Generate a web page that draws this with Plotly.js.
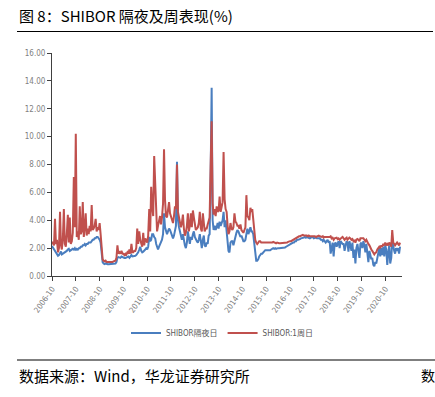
<!DOCTYPE html>
<html>
<head>
<meta charset="utf-8">
<script src="https://cdn.plot.ly/plotly-3.0.1.min.js"></script>
<style>html,body{margin:0;padding:0;background:#fff;}#chart{width:435px;height:397px;}</style>
</head>
<body>
<div id="chart"></div>
<script>
// Semi-monthly readings (1st and 16th of each month), 2006-10 .. 2021-05
const startYM = [2006, 10];
const endYM = [2021, 5];

// SHIBOR overnight (%)
const overnight = [
  2.15,2.05, 1.95,1.8, 1.7,1.6,                                               // 2006 Oct-Dec
  1.45,1.5, 1.6,1.75, 1.55,1.6, 1.6,1.7, 1.75,1.8, 1.9,1.95, 1.8,1.85, 1.9,1.95, 1.9,2.0, 1.85,1.95, 1.9,2.0, 2.0,2.1, // 2007
  2.1,2.2, 2.2,2.3, 2.2,2.3, 2.3,2.4, 2.4,2.4, 2.5,2.6, 2.6,2.7, 2.7,2.8, 2.8,2.7, 2.6,2.4, 1.6,1.0, 0.9,0.85,           // 2008
  0.9,0.85, 0.85,0.85, 0.85,0.85, 0.85,0.85, 0.85,0.85, 0.9,1.0, 1.3,1.35, 1.35,1.3, 1.4,1.35, 1.3,1.3, 1.3,1.35, 1.35,1.4, // 2009
  1.3,1.4, 1.5,1.4, 1.4,1.45, 1.45,1.5, 1.6,1.7, 1.9,2.1, 1.8,1.7, 1.75,1.8, 1.9,2.0, 1.9,2.1, 2.8,2.5, 2.6,3.0,         // 2010
  3.0,2.8, 2.7,2.3, 2.0,1.9, 2.1,2.3, 2.4,2.6, 3.0,4.5, 3.5,3.2, 3.0,3.2, 3.4,3.3, 3.1,2.8, 2.7,2.9, 3.2,3.6,           // 2011
  8.2,4.0, 3.5,3.2, 2.9,2.6, 3.0,2.5, 2.2,2.0, 2.4,3.2, 2.6,2.3, 2.8,2.6, 3.0,3.2, 2.8,2.6, 2.5,2.4, 2.6,3.0,           // 2012
  2.2,2.0, 2.6,2.9, 2.2,2.1, 2.4,2.3, 2.9,3.0, 7.5,13.5, 4.0,3.3, 3.6,3.3, 3.5,3.8, 3.4,3.9, 3.6,3.8, 4.0,4.6,          // 2013
  3.5,4.0, 3.0,2.4, 1.8,1.7, 2.4,2.5, 2.5,2.2, 2.6,3.0, 3.1,3.3, 3.2,3.0, 2.8,2.9, 2.6,2.5, 2.5,2.6, 3.0,3.4,           // 2014
  3.0,3.2, 3.5,3.2, 3.2,3.0, 2.2,1.3, 1.1,1.1, 1.2,1.4, 1.5,1.6, 1.6,1.7, 1.8,1.85, 1.85,1.85, 1.8,1.85, 1.85,1.9,      // 2015
  1.95,2.0, 1.95,2.0, 1.95,2.0, 2.0,2.0, 2.0,2.0, 2.0,2.05, 2.05,2.05, 2.1,2.15, 2.2,2.25, 2.3,2.3, 2.35,2.4, 2.4,2.5,  // 2016
  2.5,2.6, 2.6,2.6, 2.65,2.7, 2.7,2.75, 2.75,2.8, 2.75,2.8, 2.75,2.7, 2.7,2.75, 2.75,2.8, 2.7,2.75, 2.75,2.7, 2.7,2.75, // 2017
  2.7,2.6, 2.6,2.5, 2.6,2.5, 2.4,2.5, 2.6,2.4, 2.5,1.6, 2.2,2.4, 1.4,2.3, 2.4,2.1, 2.3,2.5, 2.0,2.5, 2.4,2.3,           // 2018
  2.3,1.8, 2.2,2.5, 2.4,1.75, 2.5,2.2, 1.8,2.4, 1.3,1.9, 0.9,2.0, 2.3,1.8, 1.3,2.3, 2.4,2.0, 2.5,2.2, 1.7,2.3,          // 2019
  1.3,1.0, 1.8,1.4, 1.2,1.3, 0.8,0.7, 1.0,0.9, 1.3,1.8, 2.0,1.4, 2.0,1.5, 2.1,1.4, 2.2,1.9, 0.8,1.7, 2.2,0.9,           // 2020
  1.3,2.5, 2.0,1.8, 1.6,2.0, 1.8,2.0, 1.6,2.1                                                                           // 2021 Jan-May
];

// SHIBOR 1 week (%)
const week1 = [
  2.45,2.3, 2.2,4.1, 2.3,2.6,                                                  // 2006 Oct-Dec
  1.7,2.0, 4.6,2.2, 1.9,2.6, 4.8,2.3, 2.1,3.0, 4.4,2.4, 4.2,2.3, 2.5,3.1, 7.1,3.5, 10.2,2.8, 3.2,2.6, 5.0,3.0,          // 2007
  3.2,5.3, 2.8,3.5, 4.5,2.9, 3.4,3.0, 3.6,3.2, 5.1,3.3, 3.4,3.6, 4.1,3.2, 3.5,3.3, 3.8,3.0, 2.0,1.2, 1.1,1.05,          // 2008
  1.1,1.0, 1.0,1.0, 1.0,0.95, 1.0,1.0, 1.05,1.05, 1.1,1.3, 2.2,1.6, 1.7,1.6, 1.8,1.6, 1.6,1.5, 1.6,1.55, 1.7,1.6,        // 2009
  1.9,1.6, 2.3,1.7, 1.7,1.8, 1.8,2.0, 3.4,2.3, 3.2,2.6, 2.3,2.1, 3.1,2.2, 2.7,2.5, 2.4,2.9, 4.8,3.2, 6.4,5.0,           // 2010
  4.3,8.6, 6.0,3.8, 3.2,3.6, 3.9,4.3, 3.7,4.2, 5.2,9.1, 5.5,4.3, 4.2,4.8, 5.3,4.5, 4.3,4.0, 3.8,4.3, 5.0,4.8,           // 2011
  8.0,4.6, 4.2,3.8, 3.5,3.8, 4.4,3.4, 2.9,3.1, 3.6,4.5, 3.2,3.6, 4.5,3.5, 4.7,4.2, 3.8,3.3, 3.4,3.5, 3.8,4.6,           // 2012
  3.4,3.2, 4.5,3.8, 3.2,3.4, 3.4,3.7, 3.9,4.2, 8.0,11.1, 5.2,4.4, 4.8,4.3, 5.0,4.6, 4.7,5.7, 4.6,4.9, 5.3,8.9,          // 2013
  5.5,4.8, 4.6,3.6, 3.0,3.2, 3.8,3.4, 3.3,3.5, 4.5,3.9, 3.8,3.6, 3.6,3.4, 3.7,3.3, 3.2,3.1, 3.3,3.5, 5.8,4.3,           // 2014
  4.2,4.0, 4.9,4.6, 4.8,4.0, 3.2,2.6, 2.4,2.3, 2.4,2.5, 2.5,2.4, 2.4,2.4, 2.4,2.4, 2.35,2.35, 2.35,2.35, 2.35,2.4,      // 2015
  2.4,2.45, 2.4,2.4, 2.35,2.4, 2.35,2.35, 2.35,2.35, 2.35,2.4, 2.35,2.35, 2.4,2.4, 2.45,2.5, 2.5,2.5, 2.55,2.6, 2.65,2.7, // 2016
  2.7,2.8, 2.8,2.85, 2.85,2.9, 2.9,2.95, 2.9,2.9, 2.95,2.9, 2.85,2.9, 2.85,2.85, 2.9,2.9, 2.85,2.85, 2.8,2.85, 2.85,2.9, // 2017
  2.85,2.8, 2.8,2.85, 2.75,2.8, 2.8,2.75, 2.75,2.8, 2.8,2.85, 2.7,2.75, 2.6,2.7, 2.7,2.75, 2.65,2.7, 2.6,2.7, 2.75,2.8,  // 2018
  2.7,2.6, 2.7,2.75, 2.6,2.7, 2.75,2.7, 2.6,2.65, 2.5,2.6, 2.4,2.6, 2.65,2.6, 2.5,2.7, 2.7,2.65, 2.7,2.6, 2.5,2.6,       // 2019
  2.4,2.3, 2.2,2.0, 1.9,1.8, 1.6,1.55, 1.65,1.7, 1.9,2.0, 2.1,2.0, 2.2,2.1, 2.3,2.2, 2.4,2.2, 2.3,2.2, 2.4,2.3,          // 2020
  2.1,3.3, 2.4,2.3, 2.2,2.3, 2.4,2.3, 2.2,2.4                                                                             // 2021 Jan-May
];

const seriesNames = ['SHIBOR隔夜日', 'SHIBOR:1周日'];
const seriesColors = ['#4a7ebf', '#c0504d'];

// date categories for the semi-monthly readings
const dates = [];
for (let y = startYM[0]; y <= endYM[0]; y++) {
  for (let m = 1; m <= 12; m++) {
    if (y === startYM[0] && m < startYM[1]) continue;
    if (y === endYM[0] && m > endYM[1]) continue;
    const mm = (m < 10 ? '0' : '') + m;
    dates.push(y + '-' + mm + '-01');
    dates.push(y + '-' + mm + '-16');
  }
}

const narrow = '"Liberation Sans Narrow", "DejaVu Sans Condensed", Arial, sans-serif';
const cjk = '"Noto Sans CJK SC", "Noto Sans", sans-serif';

const traces = [
  {x: dates, y: overnight, type: 'scatter', mode: 'lines', name: seriesNames[0],
   line: {color: seriesColors[0], width: 2}},
  {x: dates, y: week1, type: 'scatter', mode: 'lines', name: seriesNames[1],
   line: {color: seriesColors[1], width: 2}}
];

const L = 52, R = 33, T = 53, B = 121, W = 435, H = 397;
const pw = W - L - R, ph = H - T - B;
const px = v => (v - L) / pw;
const py = v => (H - B - v) / ph;

const layout = {
  width: W, height: H,
  margin: {l: L, r: R, t: T, b: B, pad: 0},
  paper_bgcolor: '#ffffff', plot_bgcolor: '#ffffff',
  showlegend: true,
  legend: {orientation: 'h', x: px(222), xanchor: 'center', y: py(333), yanchor: 'middle',
           font: {family: narrow + ', ' + cjk, size: 8, color: '#595959'},
           itemwidth: 30, tracegroupgap: 0, bgcolor: 'rgba(0,0,0,0)'},
  xaxis: {type: 'date', range: ['2006-10-01', '2021-06-15'], tick0: '2006-10-01', dtick: 'M12',
          tickformat: '%Y-%m', tickangle: -55, ticks: 'outside', ticklen: 4, tickcolor: '#404040',
          showline: true, linecolor: '#404040', linewidth: 1, showgrid: false, zeroline: false,
          tickfont: {family: narrow, size: 8, color: '#7f7f7f'}, automargin: false, fixedrange: true},
  yaxis: {range: [0, 16], dtick: 2, tick0: 0, tickformat: '.2f', ticks: 'outside', ticklen: 4,
          tickcolor: '#404040', showline: true, linecolor: '#404040', linewidth: 1,
          showgrid: false, zeroline: false, tickfont: {family: narrow, size: 8, color: '#7f7f7f'},
          automargin: false, fixedrange: true},
  annotations: [
    {text: '图 8：SHIBOR 隔夜及周表现(%)', xref: 'paper', yref: 'paper', x: px(17), y: py(16),
     xanchor: 'left', yanchor: 'middle', showarrow: false,
     font: {family: cjk, size: 15, color: '#000000'}},
    {text: '数据来源：Wind，华龙证券研究所', xref: 'paper', yref: 'paper', x: px(17), y: py(375),
     xanchor: 'left', yanchor: 'middle', showarrow: false,
     font: {family: cjk, size: 15, color: '#000000'}},
    {text: '数', xref: 'paper', yref: 'paper', x: px(419), y: py(375),
     xanchor: 'left', yanchor: 'middle', showarrow: false,
     font: {family: cjk, size: 14, color: '#000000'}}
  ],
  shapes: [
    {type: 'line', xref: 'paper', yref: 'paper', x0: px(17), x1: px(433), y0: py(31.5), y1: py(31.5),
     line: {color: '#000000', width: 1.2}},
    {type: 'line', xref: 'paper', yref: 'paper', x0: px(17), x1: px(435), y0: py(360), y1: py(360),
     line: {color: '#000000', width: 1.2}}
  ]
};

Plotly.newPlot('chart', traces, layout, {displayModeBar: false, staticPlot: true});
</script>
</body>
</html>
